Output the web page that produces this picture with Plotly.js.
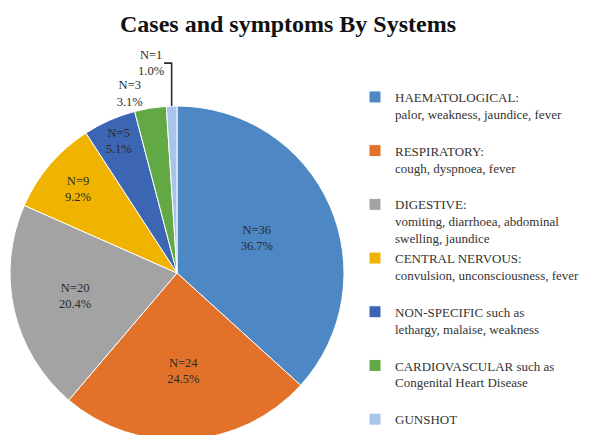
<!DOCTYPE html>
<html>
<head>
<meta charset="utf-8">
<script src="https://cdn.plot.ly/plotly-3.0.1.min.js"></script>
<style>
html, body { margin: 0; padding: 0; overflow: hidden; background: #fff; }
#chart { width: 597px; height: 441px; }
</style>
</head>
<body>
<div id="chart"></div>
<script>
// Data
const categories = [
  "HAEMATOLOGICAL:<br>palor, weakness, jaundice, fever<br> ",
  "RESPIRATORY:<br>cough, dyspnoea, fever<br> ",
  "DIGESTIVE:<br>vomiting, diarrhoea, abdominal<br>swelling, jaundice",
  "CENTRAL NERVOUS:<br>convulsion, unconsciousness, fever<br> ",
  "NON-SPECIFIC such as<br>lethargy, malaise, weakness<br> ",
  "CARDIOVASCULAR such as<br>Congenital Heart Disease<br> ",
  "GUNSHOT"
];
const cases = [36, 24, 20, 9, 5, 3, 1];
const sliceColors = ['#4E88C4', '#E2712A', '#A3A3A3', '#F0B400', '#3C66B4', '#62A844', '#A7C5E8'];
const labelPositions = ['inside', 'inside', 'inside', 'inside', 'inside', 'outside', 'outside'];

const W = 597, H = 441;

const trace = {
  type: 'pie',
  labels: categories,
  values: cases,
  sort: false,
  direction: 'clockwise',
  rotation: 0,
  marker: { colors: sliceColors, line: { color: '#ffffff', width: 1 } },
  texttemplate: 'N=%{value}<br>%{percent:.1%}',
  textposition: labelPositions,
  insidetextorientation: 'horizontal',
  textfont: { family: 'Liberation Serif', size: 12.5, color: '#2a2a2a' },
  insidetextfont: { family: 'Liberation Serif', size: 12.5, color: '#2a2a2a' },
  outsidetextfont: { family: 'Liberation Serif', size: 12.5, color: '#2a2a2a' },
  hoverinfo: 'label+value+percent',
  domain: { x: [10 / W, 344 / W], y: [(H - 440) / H, (H - 106) / H] },
  automargin: false
};

const layout = {
  width: W,
  height: H,
  margin: { l: 0, r: 0, t: 0, b: 0 },
  paper_bgcolor: '#ffffff',
  title: {
    text: '<b>Cases and symptoms By Systems</b>',
    font: { family: 'Liberation Serif', size: 24, color: '#111111' },
    x: 288 / W,
    xanchor: 'center',
    xref: 'paper',
    yref: 'container',
    y: 1 - 24 / H,
    yanchor: 'middle'
  },
  showlegend: true,
  legend: {
    x: 355 / W,
    xanchor: 'left',
    y: 1 - 82 / H,
    yanchor: 'top',
    valign: 'top',
    font: { family: 'Liberation Serif', size: 13, color: '#333333' },
    bgcolor: 'rgba(0,0,0,0)',
    traceorder: 'normal'
  }
};

Plotly.newPlot('chart', [trace], layout, { displayModeBar: false, staticPlot: true });
</script>
</body>
</html>
